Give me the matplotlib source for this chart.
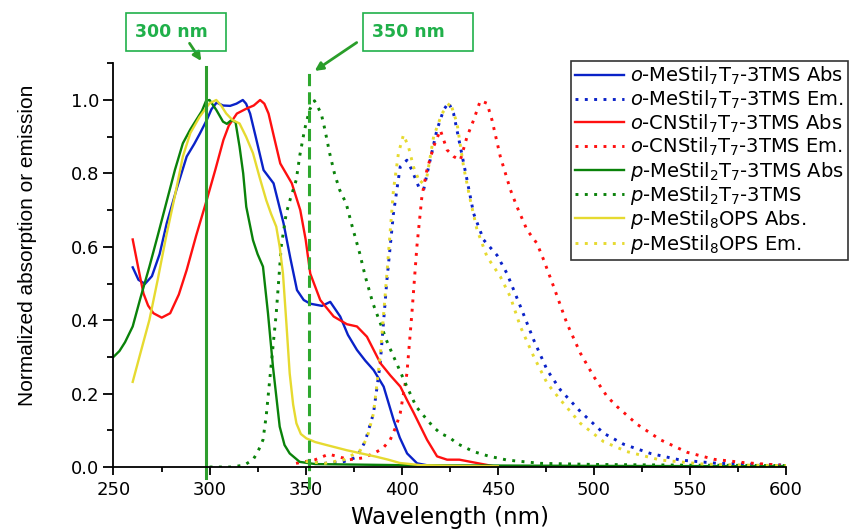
import matplotlib
matplotlib.use("Agg")
import matplotlib.pyplot as plt
from matplotlib.patches import Rectangle
from matplotlib.ticker import MultipleLocator, FormatStrFormatter

plt.rcParams['font.family'] = ['DejaVu Sans']
plt.rcParams['mathtext.fontset'] = 'dejavusans'

# o-MeStil7T7-3TMS absorption
blue_abs_wl = [260, 263, 266.4, 270, 274, 277.7, 283, 288.1, 292, 295, 298.5, 301, 303.7, 307, 310.7, 314,
               317.3, 319, 321.1, 324, 328.1, 333.3, 338.5, 342, 345.5, 349, 352.4, 358.5, 362.8, 368, 372,
               376.7, 381, 385.4, 390.6, 395.8, 399, 402.8, 408, 415, 425, 450]
blue_abs = [0.544, 0.51, 0.499, 0.52, 0.58, 0.664, 0.76, 0.846, 0.88, 0.909, 0.945, 0.975, 0.993, 0.985, 0.984,
            0.99, 1.0, 0.99, 0.963, 0.90, 0.809, 0.773, 0.664, 0.57, 0.482, 0.455, 0.445, 0.439, 0.450, 0.410,
            0.36, 0.319, 0.29, 0.264, 0.219, 0.128, 0.08, 0.037, 0.01, 0.003, 0.0, 0.0]

# o-MeStil7T7-3TMS emission
blue_em_wl = [350, 360, 370, 376.7, 381, 385.3, 388.8, 392.3, 395.7, 399.2, 402.7, 405.3, 408.8, 411.4, 414,
              418.3, 421.8, 424.4, 427, 430.5, 434, 437.4, 442.6, 449.6, 454.8, 461.8, 468.7, 475.7, 482.6,
              493, 505.1, 515.5, 529.4, 545, 564.1, 586.7, 600]
blue_em = [0.015, 0.01, 0.015, 0.027, 0.07, 0.146, 0.282, 0.510, 0.691, 0.818, 0.836, 0.809, 0.764, 0.755,
           0.818, 0.918, 0.973, 0.993, 0.963, 0.873, 0.782, 0.691, 0.619, 0.577, 0.527, 0.437, 0.346, 0.264,
           0.210, 0.151, 0.092, 0.062, 0.037, 0.019, 0.010, 0.007, 0.005]

# o-CNStil7T7-3TMS absorption
red_abs_wl = [260, 263, 265.6, 268, 270.8, 275.1, 279.5, 284, 288.1, 293, 298.5, 303, 307.2, 310, 314.2, 319.4,
              323, 326.3, 328.5, 330.7, 333.5, 336.8, 342.8, 347.2, 350, 352.4, 357.6, 364.6, 371.5, 376.7,
              381.9, 388.9, 394, 399.3, 403, 406.3, 413.2, 418.4, 423.6, 430, 440, 450]
red_abs = [0.620, 0.54, 0.473, 0.44, 0.419, 0.407, 0.419, 0.47, 0.537, 0.63, 0.727, 0.81, 0.891, 0.93, 0.963,
           0.977, 0.985, 1.0, 0.99, 0.963, 0.90, 0.827, 0.773, 0.700, 0.62, 0.527, 0.455, 0.410, 0.389, 0.383,
           0.355, 0.283, 0.25, 0.219, 0.18, 0.147, 0.074, 0.029, 0.02, 0.02, 0.01, 0.0]

# o-CNStil7T7-3TMS emission
red_em_wl = [345, 355, 362, 372.9, 380, 385.3, 390, 394, 397, 399.2, 402.7, 405.3, 407.9, 410.5, 413.1, 416.6,
             420.1, 423.6, 427, 430.5, 434, 437.4, 440.9, 444.4, 447, 451.3, 456.6, 460, 465.2, 470.4, 473.9,
             479.1, 486, 493, 500, 506.9, 512.2, 522.6, 534.7, 548.6, 562.5, 578.1, 597.2]
red_em = [0.01, 0.02, 0.035, 0.02, 0.025, 0.037, 0.05, 0.074, 0.11, 0.146, 0.255, 0.419, 0.601, 0.737, 0.809,
          0.873, 0.918, 0.864, 0.846, 0.836, 0.900, 0.945, 0.998, 0.991, 0.945, 0.846, 0.755, 0.709, 0.646,
          0.609, 0.564, 0.491, 0.391, 0.310, 0.246, 0.192, 0.164, 0.116, 0.074, 0.040, 0.021, 0.012, 0.005]

# p-MeStil2T7-3TMS absorption
green_abs_wl = [250, 253.1, 256, 260, 264, 268.7, 273, 277.4, 282, 286.1, 290, 293, 296, 298.2, 300, 303.5, 307,
                309, 311.3, 313.5, 315.6, 317.5, 319.1, 322.6, 325, 327.8, 330.4, 333, 336.5, 339, 341.7,
                346.9, 355, 400, 500, 600]
green_abs = [0.30, 0.316, 0.34, 0.383, 0.46, 0.546, 0.63, 0.718, 0.81, 0.882, 0.92, 0.945, 0.97, 0.998, 1.0,
             0.973, 0.941, 0.935, 0.945, 0.94, 0.873, 0.80, 0.709, 0.618, 0.58, 0.546, 0.419, 0.273, 0.110,
             0.06, 0.037, 0.014, 0.008, 0.005, 0.003, 0.002]

# p-MeStil2T7-3TMS emission
green_em_wl = [300, 311, 318, 322.6, 325, 327.8, 329.5, 331.3, 334.7, 337.3, 339.9, 342, 345.1, 347, 349.4, 352,
               354.6, 358.1, 360, 362.5, 365, 367.7, 371.1, 374, 378.1, 381, 385, 389, 392, 395, 398.9, 402.7,
               407.6, 411.4, 416.3, 420.1, 425, 428.8, 437.4, 445, 454.8, 472.2, 500, 550, 600]
green_em = [0.0, 0.0, 0.005, 0.02, 0.04, 0.074, 0.14, 0.237, 0.419, 0.601, 0.691, 0.73, 0.782, 0.85, 0.918,
            0.973, 0.998, 0.963, 0.92, 0.855, 0.80, 0.755, 0.718, 0.66, 0.583, 0.52, 0.446, 0.39, 0.346, 0.31,
            0.264, 0.219, 0.164, 0.14, 0.110, 0.092, 0.08, 0.064, 0.042, 0.03, 0.019, 0.010, 0.007, 0.005, 0.004]

# p-MeStil8OPS absorption
yellow_abs_wl = [260, 264, 268.7, 273, 277.4, 282, 286.1, 290, 294.8, 300, 303.5, 306, 308.7, 312, 315.6, 319,
                 322.6, 326, 329.5, 332, 334.7, 336.5, 338.2, 340, 341.7, 343.5, 345.2, 347.5, 350.4, 355, 360.8,
                 366, 371.2, 379, 386.8, 393, 399, 410, 430, 450]
yellow_abs = [0.232, 0.31, 0.401, 0.51, 0.628, 0.74, 0.846, 0.91, 0.954, 0.991, 1.0, 0.985, 0.963, 0.945, 0.936,
              0.90, 0.855, 0.79, 0.727, 0.69, 0.655, 0.60, 0.527, 0.39, 0.255, 0.17, 0.119, 0.09, 0.078, 0.068,
              0.060, 0.053, 0.046, 0.037, 0.028, 0.02, 0.011, 0.005, 0.003, 0.002]

# p-MeStil8OPS emission
yellow_em_wl = [350, 360, 370, 378.4, 382, 385.3, 388.8, 392.3, 395.7, 398.3, 400.9, 403.5, 406.1, 409.6, 413.1,
                416.6, 420.9, 425.3, 428.8, 432.2, 435.7, 439.2, 444.4, 451.3, 456.5, 461.8, 468.7, 475.7, 482.6,
                493, 505.1, 517.2, 534.6, 557.2, 580, 600]
yellow_em = [0.015, 0.01, 0.02, 0.045, 0.08, 0.146, 0.301, 0.528, 0.755, 0.855, 0.905, 0.873, 0.818, 0.773,
             0.791, 0.900, 0.963, 0.993, 0.936, 0.818, 0.727, 0.646, 0.573, 0.519, 0.464, 0.382, 0.301, 0.228,
             0.183, 0.119, 0.069, 0.042, 0.019, 0.008, 0.005, 0.004]

labels = [r'$\it{o}$-MeStil$_7$T$_7$-3TMS Abs',
          r'$\it{o}$-MeStil$_7$T$_7$-3TMS Em.',
          r'$\it{o}$-CNStil$_7$T$_7$-3TMS Abs',
          r'$\it{o}$-CNStil$_7$T$_7$-3TMS Em.',
          r'$\it{p}$-MeStil$_2$T$_7$-3TMS Abs',
          r'$\it{p}$-MeStil$_2$T$_7$-3TMS',
          r'$\it{p}$-MeStil$_8$OPS Abs.',
          r'$\it{p}$-MeStil$_8$OPS Em.']

BLUE = '#0a22c8'
RED = '#ff1010'
GREEN = '#0a820a'
YELLOW = '#e6da30'
dots = (0, (1, 2.2))
LW = 1.7
DLW = 2.1

fig = plt.figure(figsize=(8.65, 5.31), dpi=100)
ax = fig.add_axes([0.1312, 0.1205, 0.7775, 0.7603])

ax.plot(blue_abs_wl, blue_abs, color=BLUE, lw=LW, label=labels[0])
ax.plot(blue_em_wl, blue_em, color=BLUE, lw=DLW, ls=dots, label=labels[1])
ax.plot(red_abs_wl, red_abs, color=RED, lw=LW, label=labels[2])
ax.plot(red_em_wl, red_em, color=RED, lw=DLW, ls=dots, label=labels[3])
ax.plot(green_abs_wl, green_abs, color=GREEN, lw=LW, label=labels[4])
ax.plot(green_em_wl, green_em, color=GREEN, lw=DLW, ls=dots, label=labels[5])
ax.plot(yellow_abs_wl, yellow_abs, color=YELLOW, lw=LW, label=labels[6])
ax.plot(yellow_em_wl, yellow_em, color=YELLOW, lw=DLW, ls=dots, label=labels[7])

# excitation markers
ax.plot([298, 298], [-0.03, 1.09], color='#2e9e2e', lw=2.2, clip_on=False)
ax.plot([352, 352], [-0.06, 1.075], color='#2ea82e', lw=2.2, ls=(0, (4, 2)), clip_on=False)

ax.set_xlim(250, 600)
ax.set_ylim(0, 1.1)
ax.xaxis.set_major_locator(MultipleLocator(50))
ax.xaxis.set_minor_locator(MultipleLocator(25))
ax.set_yticks([0, 0.2, 0.4, 0.6, 0.8, 1.0])
ax.yaxis.set_minor_locator(MultipleLocator(0.1))
ax.yaxis.set_major_formatter(FormatStrFormatter('%.1f'))
ax.spines['top'].set_visible(False)
ax.spines['right'].set_visible(False)
for s in ['left', 'bottom']:
    ax.spines[s].set_linewidth(1.3)
ax.tick_params(which='major', direction='out', width=1.3, labelsize=13)
ax.tick_params(which='minor', direction='out', width=1.3)
ax.tick_params(axis='x', which='major', length=6, pad=4)
ax.tick_params(axis='x', which='minor', length=3.5)
ax.tick_params(axis='y', which='major', length=7.5, pad=3)
ax.tick_params(axis='y', which='minor', length=4)

ax.set_xlabel('Wavelength (nm)', fontsize=16.5, labelpad=5)
ax.set_ylabel('Normalized absorption or emission', fontsize=15, family=['Liberation Sans', 'DejaVu Sans'])
ax.yaxis.set_label_coords(-0.114, 0.55)

leg = ax.legend(loc='upper left', bbox_to_anchor=(571 / 865, 1 - 61 / 531), bbox_transform=fig.transFigure,
                borderaxespad=0, fontsize=14, frameon=True, fancybox=False, edgecolor='black',
                handlelength=2.5, handletextpad=0.35, labelspacing=0.07, borderpad=0.2)
leg.get_frame().set_linewidth(1.2)

# callout boxes
TXT = '#20b04a'
for x0, w, txt in [(126, 100, '300 nm'), (363, 110, '350 nm')]:
    fig.patches.append(Rectangle((x0 / 865, 1 - 51 / 531), w / 865, 38 / 531, transform=fig.transFigure,
                                 fill=False, edgecolor=TXT, lw=1.2))
    fig.text((x0 + 9) / 865, 1 - 32 / 531, txt, color=TXT, fontsize=12.5, weight='bold', va='center')

ax.annotate('', xy=(296.5, 1.10), xytext=(188 / 865, 1 - 41 / 531), textcoords='figure fraction',
            annotation_clip=False,
            arrowprops=dict(arrowstyle='-|>', color='#2a9e2a', lw=2, mutation_scale=12))
ax.annotate('', xy=(353.5, 1.075), xytext=(359 / 865, 1 - 41 / 531), textcoords='figure fraction',
            annotation_clip=False,
            arrowprops=dict(arrowstyle='-|>', color='#2a9e2a', lw=2, mutation_scale=12))

fig.savefig('out.png', dpi=100)
